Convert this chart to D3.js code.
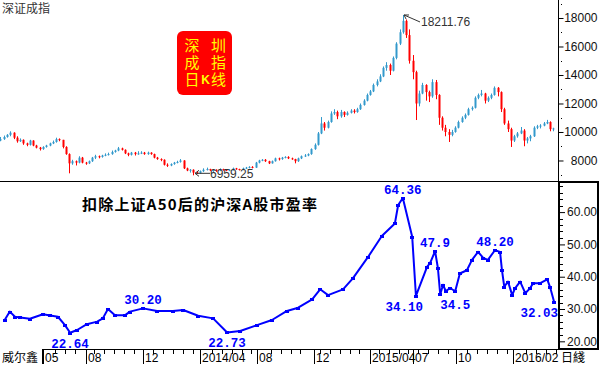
<!DOCTYPE html>
<html><head><meta charset="utf-8">
<script src="https://cdn.jsdelivr.net/npm/d3@7"></script>
<style>html,body{margin:0;padding:0;background:#fff}svg{display:block}</style>
</head><body>
<svg id="chart" width="600" height="366"></svg>
<script>
// ---- DATA ----
// weekly candles of 深证成指: [week start, open, high, low, close]
const klineWeekly = [
["2013-01-28",9400,9650,9350,9500],["2013-02-04",9500,9750,9450,9650],["2013-02-11",9650,9850,9600,9800],
["2013-02-18",9800,10050,9700,9950],["2013-02-25",9950,9980,9500,9600],["2013-03-04",9600,9700,9250,9350],
["2013-03-11",9350,9550,9300,9450],["2013-03-18",9450,9480,9100,9200],["2013-03-25",9200,9250,9000,9100],
["2013-04-01",9100,9450,9050,9400],["2013-04-08",9400,9420,9000,9050],["2013-04-15",9050,9100,8850,8900],
["2013-04-22",8900,8950,8700,8800],["2013-04-29",8800,9000,8750,8950],["2013-05-06",8950,9100,8900,9050],
["2013-05-13",9050,9250,9000,9200],["2013-05-20",9200,9400,9150,9300],["2013-05-27",9300,9600,9250,9500],
["2013-06-03",9500,9550,9350,9450],["2013-06-10",9450,9450,8850,8950],["2013-06-17",8950,9000,8400,8450],
["2013-06-24",8450,8500,7100,7800],["2013-07-01",7800,8050,7700,7950],["2013-07-08",7950,8000,7650,7850],
["2013-07-15",7850,8300,7800,8200],["2013-07-22",8200,8250,7800,7850],["2013-07-29",7850,7900,7700,7800],
["2013-08-05",7800,8000,7750,7950],["2013-08-12",7950,8250,7900,8200],["2013-08-19",8200,8400,8100,8300],
["2013-08-26",8300,8350,8150,8250],["2013-09-02",8250,8400,8200,8350],["2013-09-09",8350,8500,8300,8400],
["2013-09-16",8400,8550,8350,8450],["2013-09-23",8450,8700,8400,8600],["2013-09-30",8600,8750,8550,8700],
["2013-10-07",8700,8950,8650,8850],["2013-10-14",8850,8900,8700,8750],["2013-10-21",8750,8780,8450,8500],
["2013-10-28",8500,8550,8300,8400],["2013-11-04",8400,8600,8350,8550],["2013-11-11",8550,8600,8350,8450],
["2013-11-18",8450,8650,8400,8500],["2013-11-25",8500,8650,8450,8550],["2013-12-02",8550,8600,8400,8450],
["2013-12-09",8450,8620,8400,8550],["2013-12-16",8550,8580,8400,8450],["2013-12-23",8450,8480,8150,8200],
["2013-12-30",8200,8250,8050,8100],["2014-01-06",8100,8150,7950,8050],["2014-01-13",8050,8080,7650,7700],
["2014-01-20",7700,7800,7550,7650],["2014-01-27",7650,7800,7600,7750],["2014-02-03",7750,7900,7700,7850],
["2014-02-10",7850,7980,7800,7900],["2014-02-17",7900,8100,7850,8000],["2014-02-24",8000,8020,7400,7450],
["2014-03-03",7450,7500,7250,7300],["2014-03-10",7300,7400,7150,7350],["2014-03-17",7350,7380,6959.25,7150],
["2014-03-24",7150,7250,7050,7100],["2014-03-31",7100,7300,7080,7250],["2014-04-07",7250,7450,7200,7350],
["2014-04-14",7350,7500,7300,7400],["2014-04-21",7400,7420,7250,7300],["2014-04-28",7300,7400,7200,7350],
["2014-05-05",7350,7380,7200,7300],["2014-05-12",7300,7450,7250,7400],["2014-05-19",7400,7420,7280,7350],
["2014-05-26",7350,7400,7250,7300],["2014-06-02",7300,7400,7250,7350],["2014-06-09",7350,7500,7300,7450],
["2014-06-16",7450,7480,7350,7400],["2014-06-23",7400,7420,7300,7350],["2014-06-30",7350,7500,7320,7450],
["2014-07-07",7450,7550,7400,7500],["2014-07-14",7500,7600,7450,7550],["2014-07-21",7550,7600,7450,7500],
["2014-07-28",7500,7900,7480,7850],["2014-08-04",7850,8050,7800,8000],["2014-08-11",8000,8100,7950,8050],
["2014-08-18",8050,8100,7900,7950],["2014-08-25",7950,7980,7750,7800],["2014-09-01",7800,8000,7780,7950],
["2014-09-08",7950,8200,7920,8150],["2014-09-15",8150,8200,8000,8100],["2014-09-22",8100,8250,8050,8200],
["2014-09-29",8200,8300,8150,8250],["2014-10-06",8250,8300,8100,8150],["2014-10-13",8150,8200,8050,8100],
["2014-10-20",8100,8120,7800,7950],["2014-10-27",7950,8200,7900,8150],["2014-11-03",8150,8350,8100,8300],
["2014-11-10",8300,8450,8250,8350],["2014-11-17",8350,8500,8300,8450],["2014-11-24",8450,8850,8400,8800],
["2014-12-01",8800,9200,8750,9100],["2014-12-08",9100,10000,9050,9900],["2014-12-15",9900,11050,9850,10600],
["2014-12-22",10600,10700,10100,10300],["2014-12-29",10300,10800,10250,10700],["2015-01-05",10700,11450,10650,11300],
["2015-01-12",11300,11600,11200,11400],["2015-01-19",11400,11500,10900,11100],["2015-01-26",11100,11550,11000,11400],
["2015-02-02",11400,11450,11050,11200],["2015-02-09",11200,11450,11150,11350],["2015-02-16",11350,11600,11300,11500],
["2015-02-23",11500,11600,11300,11400],["2015-03-02",11400,11700,11350,11600],["2015-03-09",11600,12000,11550,11900],
["2015-03-16",11900,12300,11850,12200],["2015-03-23",12200,12700,12150,12600],["2015-03-30",12600,12950,12550,12850],
["2015-04-06",12850,13400,12800,13300],["2015-04-13",13300,13700,13200,13550],["2015-04-20",13550,14050,13500,13900],
["2015-04-27",13900,14600,13850,14500],["2015-05-04",14500,14900,14300,14700],["2015-05-11",14700,14800,14000,14300],
["2015-05-18",14300,15300,14250,15200],["2015-05-25",15200,16300,15100,16200],["2015-06-01",16200,17200,16100,17000],
["2015-06-08",17000,18211.76,16900,17800],["2015-06-15",17800,17900,16600,16800],["2015-06-22",16800,17200,14800,15000],
["2015-06-29",15000,15400,13700,14200],["2015-07-06",14200,14300,10840,12000],["2015-07-13",12000,12900,11800,12700],
["2015-07-20",12700,13450,12650,13300],["2015-07-27",13300,13350,12200,12800],["2015-08-03",12800,12900,12100,12500],
["2015-08-10",12500,13700,12400,13500],["2015-08-17",13500,13650,12300,12600],["2015-08-24",12600,12650,10500,11000],
["2015-08-31",11000,11100,10100,10300],["2015-09-07",10300,10500,9700,10000],["2015-09-14",10000,10200,9300,9800],
["2015-09-21",9800,10150,9700,10000],["2015-09-28",10000,10400,9950,10300],["2015-10-05",10300,10800,10250,10700],
["2015-10-12",10700,11100,10650,11000],["2015-10-19",11000,11300,10900,11200],["2015-10-26",11200,11700,11150,11600],
["2015-11-02",11600,11800,11500,11700],["2015-11-09",11700,12500,11650,12400],["2015-11-16",12400,12700,12300,12600],
["2015-11-23",12600,12950,12500,12700],["2015-11-30",12700,12750,12000,12200],["2015-12-07",12200,12500,12100,12400],
["2015-12-14",12400,12700,12300,12600],["2015-12-21",12600,13200,12550,13100],["2015-12-28",13100,13150,12500,12800],
["2016-01-04",12800,12850,11400,11600],["2016-01-11",11600,11700,10500,10600],["2016-01-18",10600,10800,10000,10200],
["2016-01-25",10200,10300,8950,9400],["2016-02-01",9400,9800,9300,9700],["2016-02-08",9700,10000,9600,9900],
["2016-02-15",9900,10350,9850,10100],["2016-02-22",10100,10200,9000,9400],["2016-02-29",9400,9650,9200,9550],
["2016-03-07",9550,9800,9350,9700],["2016-03-14",9700,10400,9650,10300],["2016-03-21",10300,10500,10200,10400],
["2016-03-28",10400,10550,10250,10450],["2016-04-04",10450,10700,10400,10600],["2016-04-11",10600,10850,10550,10700],
["2016-04-18",10700,10750,10050,10200],["2016-04-25",10200,10300,10050,10250]
];
// 扣除上证A50后的沪深A股市盈率
const peSeries = [
["2013-02-08",26.6],["2013-02-19",29.2],["2013-03-02",27.6],["2013-03-13",27.4],["2013-04-03",27.0],
["2013-05-01",28.4],["2013-05-16",28.0],["2013-06-02",27.6],["2013-06-17",25.0],["2013-06-28",22.64],
["2013-07-13",23.5],["2013-08-03",25.3],["2013-08-25",26.1],["2013-09-06",27.1],["2013-09-17",30.0],
["2013-10-02",28.1],["2013-10-24",28.1],["2013-11-03",29.2],["2013-12-01",30.2],["2013-12-31",29.4],
["2014-02-03",29.4],["2014-02-25",29.7],["2014-03-29",27.9],["2014-04-30",27.1],["2014-05-30",22.73],
["2014-06-27",23.2],["2014-08-02",25.0],["2014-09-03",26.6],["2014-10-05",29.4],["2014-10-29",30.4],
["2014-11-28",33.0],["2014-12-15",36.1],["2015-01-01",34.3],["2015-02-02",36.1],["2015-02-23",39.5],
["2015-03-28",46.2],["2015-04-26",52.6],["2015-05-24",56.5],["2015-05-31",62.2],["2015-06-10",64.36],
["2015-06-30",52.4],["2015-07-08",34.10],["2015-08-01",43.1],["2015-08-07",44.1],["2015-08-18",47.9],
["2015-08-24",42.7],["2015-08-29",34.5],["2015-09-04",37.5],["2015-09-10",35.5],["2015-09-19",36.5],
["2015-09-30",35.5],["2015-10-10",41.0],["2015-10-25",42.0],["2015-11-05",45.2],["2015-11-18",47.7],
["2015-11-29",45.8],["2015-12-09",45.2],["2015-12-24",48.20],["2016-01-04",47.7],["2016-01-08",42.1],
["2016-01-13",36.9],["2016-01-21",38.5],["2016-01-30",34.3],["2016-02-05",36.4],["2016-02-16",38.5],
["2016-02-27",34.9],["2016-03-08",36.4],["2016-03-15",38.0],["2016-03-30",38.0],["2016-04-14",39.2],
["2016-04-20",36.8],["2016-04-29",32.03]
];
// [date, text, high/low, anchor]
const peLabels = [
["2013-06-28","22.64","low","middle"],["2013-12-01","30.20","high","middle"],["2014-05-30","22.73","low","middle"],
["2015-06-10","64.36","high","middle"],["2015-07-08","34.10","low","end"],["2015-08-18","47.9","high","middle"],
["2015-08-29","34.5","low","start"],["2015-12-24","48.20","high","middle"],["2016-04-29","32.03","low","end"]
];
const priceTicks = [8000,10000,12000,14000,16000,18000];
const peTicks = [20,30,40,50,60];
const dateTicks = [["2013-05-01","05"],["2013-08-01","08"],["2013-12-01","12"],["2014-04-01","2014/04"],
  ["2014-08-01","08"],["2014-12-01","12"],["2015-04-01","2015/04"],["2015-07-01","07"],["2015-10-01","10"],["2016-02-01","2016/02"]];
const topTitle = "深证成指";
const bottomTitle = "扣除上证A50后的沪深A股市盈率";
const badgeColumns = ["深成日", "圳指线"];
const badgeMid = "K";
const footLeft = "威尔鑫";
const footRight = "日綫";

// ---- DRAW ----
const svg = d3.select("#chart");
const parse = d3.timeParse("%Y-%m-%d");
const PR = 558;
const x = d3.scaleTime().domain([new Date(2013,0,29), new Date(2016,4,7)]).range([0, PR]);
const yP = d3.scaleLinear().domain([6561, 19263]).range([181, 0]);
const yE = d3.scaleLinear().domain([17.93, 69.32]).range([348, 182]);
const UP = "#3399cc", DOWN = "#ff0000";
const numFont = "'Liberation Sans', Arial, sans-serif";
const cjk = "'Noto Sans CJK SC', sans-serif";

svg.append("rect").attr("width",600).attr("height",366).attr("fill","#fff");

// candles
const cg = svg.append("g");
klineWeekly.forEach(([d,o,h,l,c]) => {
  const cx = Math.round(x(d3.timeDay.offset(parse(d), 2)));
  const col = c >= o ? UP : DOWN;
  cg.append("line").attr("x1",cx+0.5).attr("x2",cx+0.5).attr("y1",yP(h)).attr("y2",yP(l))
    .attr("stroke",col).attr("stroke-width",1);
  const y1 = yP(Math.max(o,c)), y2 = yP(Math.min(o,c));
  cg.append("rect").attr("x",cx-0.5).attr("y",y1).attr("width",2).attr("height",Math.max(1,y2-y1)).attr("fill",col);
});

// max/min annotations
const hiRow = klineWeekly.reduce((a,b)=> b[2]>a[2]?b:a);
const loRow = klineWeekly.reduce((a,b)=> b[3]<a[3]?b:a);
const ann = svg.append("g").attr("fill","#333").attr("font-family",numFont).attr("font-size","12px");
{
  const hx = Math.round(x(d3.timeDay.offset(parse(hiRow[0]),2)))+1, hy = yP(hiRow[2]);
  ann.append("path").attr("d",`M${hx+16},${hy+7} L${hx},${hy} M${hx},${hy} l5,0 M${hx},${hy} l2,4`).attr("stroke","#333").attr("fill","none");
  ann.append("text").attr("x",hx+17).attr("y",hy+11).text(d3.format(".2f")(hiRow[2]));
  const lx = Math.round(x(d3.timeDay.offset(parse(loRow[0]),2)))+2, ly = yP(loRow[3]) - 2;
  ann.append("path").attr("d",`M${lx+15},${ly} L${lx},${ly} M${lx},${ly} l4,-3 M${lx},${ly} l4,3`).attr("stroke","#333").attr("fill","none");
  ann.append("text").attr("x",lx+15).attr("y",ly+5).text(d3.format(".2f")(loRow[3]));
}

// top-left title
svg.append("text").attr("x",2).attr("y",13).attr("font-family",cjk).attr("font-size","12px").attr("fill","#333").text(topTitle);

// badge: two vertical columns of glyphs + the K
const bg = svg.append("g");
bg.append("rect").attr("x",177).attr("y",31).attr("width",55).attr("height",64).attr("rx",6).attr("fill","#ff0000");
[192, 218.5].forEach((cx,i)=>{
  bg.append("text").attr("x",cx).attr("y",38).attr("font-family",cjk).attr("font-size","15px")
    .attr("fill","#ffff00").style("writing-mode","vertical-rl").attr("letter-spacing","2px").text(badgeColumns[i]);
});
bg.append("text").attr("x",205.5).attr("y",84).attr("text-anchor","middle").attr("font-family",numFont)
  .attr("font-weight","bold").attr("font-size","12px").attr("fill","#ffff00").text(badgeMid);

// top right axis
svg.append("line").attr("x1",PR+0.5).attr("x2",PR+0.5).attr("y1",0).attr("y2",181).attr("stroke","#000");
const ta = svg.append("g").attr("transform",`translate(${PR+0.5},0)`)
  .call(d3.axisRight(yP).tickValues(priceTicks).tickSize(5).tickSizeOuter(0).tickFormat(d3.format("d")));
ta.select(".domain").remove();
ta.selectAll("text").attr("x",39).attr("text-anchor","end").attr("font-family",numFont).attr("font-size","12px").attr("fill","#111");
ta.selectAll("line").attr("stroke","#000");
const minorP = d3.range(7000, 19001, 1000).filter(v=>!priceTicks.includes(v));
svg.append("g").selectAll("rect").data(minorP).join("rect").attr("x",PR+3).attr("y",d=>Math.round(yP(d))).attr("width",1).attr("height",1).attr("fill","#000");

// separator
svg.append("line").attr("x1",0).attr("x2",PR).attr("y1",181.5).attr("y2",181.5).attr("stroke","#000");

// bottom panel frame for axis
svg.append("rect").attr("x",PR+1).attr("y",182).attr("width",39).attr("height",167).attr("fill","none").attr("stroke","#000").attr("stroke-width",2);
const ba = svg.append("g").attr("transform",`translate(${PR+2},0)`)
  .call(d3.axisRight(yE).tickValues(peTicks).tickSize(5).tickSizeOuter(0).tickFormat(d3.format(".2f")));
ba.select(".domain").remove();
ba.selectAll("text").attr("x",37).attr("text-anchor","end").attr("font-family",numFont).attr("font-size","12px").attr("fill","#111");
const minorE = d3.range(18, 69, 2).filter(v=>!peTicks.includes(v));
svg.append("g").selectAll("line").data(minorE).join("line").attr("x1",PR+2).attr("x2",PR+5)
  .attr("y1",d=>Math.round(yE(d))+0.5).attr("y2",d=>Math.round(yE(d))+0.5).attr("stroke","#000");

// bottom title
svg.append("text").attr("x",82).attr("y",210).attr("font-family",cjk).attr("font-weight","bold").attr("font-size","15px")
  .attr("textLength",235).attr("lengthAdjust","spacing").attr("fill","#000").text(bottomTitle);

// PE line
const pe = peSeries.map(([d,v])=>({d:parse(d), v}));
svg.append("path").datum(pe).attr("d", d3.line().x(p=>x(p.d)).y(p=>yE(p.v)))
  .attr("fill","none").attr("stroke","#0000ff").attr("stroke-width",2).attr("stroke-linejoin","round");
svg.append("g").selectAll("rect").data(pe).join("rect").attr("x",p=>Math.round(x(p.d))-2).attr("y",p=>Math.round(yE(p.v))-1)
  .attr("width",4).attr("height",3).attr("fill","#0000ff");

// PE labels
const lg = svg.append("g").attr("font-family","'Liberation Mono', 'DejaVu Sans Mono', monospace").attr("font-weight","bold")
  .attr("font-size","12.5px").attr("fill","#0000ff");
peLabels.forEach(([d,t,k,a])=>{
  const px = x(parse(d)), v = peSeries.find(r=>r[0]===d)[1];
  let lx = px;
  if (a === "end") lx = Math.min(px + 7, PR);
  const ty = k==="high" ? yE(v) - 4 : yE(v) + 15;
  lg.append("text").attr("x",lx).attr("y",ty).attr("text-anchor",a).text(t);
});

// bottom date axis
const ax = svg.append("g");
ax.append("line").attr("x1",42).attr("x2",PR).attr("y1",349.5).attr("y2",349.5).attr("stroke","#000");
const majors = dateTicks.map(([d,t])=>({x:Math.round(x(parse(d)))+0.5, t}));
const minors = d3.timeDay.range(new Date(2013,1,11), new Date(2016,4,7), 1).filter((d,i)=>i%21===0)
  .map(d=>Math.round(x(d))+0.5).filter(v=>v>44 && v<PR && majors.every(m=>Math.abs(m.x-v)>4));
ax.selectAll(".mn").data(minors).join("line").attr("x1",d=>d).attr("x2",d=>d).attr("y1",349).attr("y2",354).attr("stroke","#000");
ax.selectAll(".mj").data(majors.concat([{x:42.5,t:""}])).join("line").attr("x1",d=>d.x).attr("x2",d=>d.x).attr("y1",349).attr("y2",364).attr("stroke","#000");
ax.selectAll("text").data(majors).join("text").attr("x",d=>d.x+1.5).attr("y",362).attr("font-family",numFont)
  .attr("font-size","12px").attr("fill","#000").text(d=>d.t);
svg.append("text").attr("x",2).attr("y",362).attr("font-family",cjk).attr("font-size","12px").attr("fill","#000").text(footLeft);
svg.append("text").attr("x",561).attr("y",362).attr("font-family",cjk).attr("font-size","12px").attr("fill","#000").text(footRight);
</script>
</body></html>
